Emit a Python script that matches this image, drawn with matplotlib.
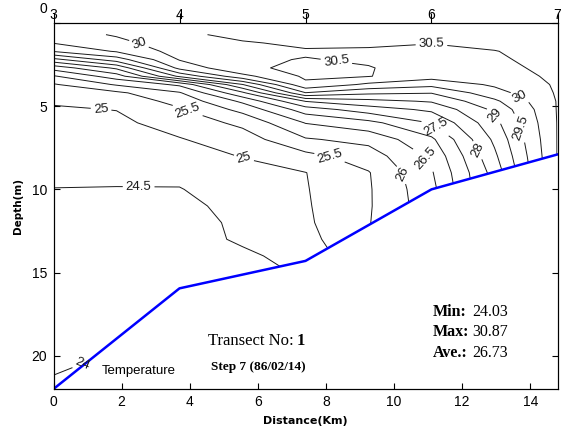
import numpy as np
import matplotlib
matplotlib.use('Agg')
import matplotlib.pyplot as plt
import matplotlib.transforms as mtransforms
from matplotlib.patches import Polygon

plt.rcParams['font.family'] = 'Liberation Sans'

# grid: distance along the transect (km) and depth (m)
dist = [0, 1.85, 3.7, 5.55, 7.4, 9.25, 11.1, 12.95, 14.8]
depth = [0.7, 1.2, 1.7, 2.2, 2.7, 3.2, 3.7, 4.2, 4.7, 5.2, 6, 7, 8, 9, 10,
         11, 12, 13, 14, 15, 16, 18, 20, 22]

# temperature (deg C), one row per depth
temp = [
    [29.75, 30.05, 30.38, 30.65, 30.75, 30.80, 30.70, 30.80, 30.87],
    [29.52, 29.85, 30.30, 30.45, 30.60, 30.60, 30.51, 30.65, 30.80],
    [29.03, 29.55, 30.20, 30.40, 30.45, 30.42, 30.42, 30.48, 30.75],
    [27.85, 28.75, 30.03, 30.43, 30.52, 30.45, 30.38, 30.42, 30.70],
    [26.70, 27.60, 29.65, 30.42, 30.60, 30.52, 30.33, 30.35, 30.65],
    [25.95, 26.75, 28.60, 29.85, 30.58, 30.52, 30.20, 30.25, 30.60],
    [25.45, 26.05, 26.60, 28.48, 30.40, 29.90, 29.65, 30.08, 30.56],
    [25.25, 25.40, 25.95, 27.40, 29.48, 29.10, 29.02, 29.80, 30.55],
    [25.05, 25.20, 25.65, 26.60, 28.02, 28.35, 28.55, 29.40, 30.53],
    [24.95, 25.01, 25.45, 26.15, 27.25, 27.75, 28.10, 29.10, 30.53],
    [24.88, 24.90, 25.20, 25.62, 26.52, 26.85, 27.52, 28.85, 30.52],
    [24.80, 24.80, 24.97, 25.25, 25.95, 26.15, 26.90, 28.60, 30.52],
    [24.70, 24.70, 24.80, 25.02, 25.35, 25.75, 26.60, 28.40, 30.52],
    [24.60, 24.60, 24.62, 24.85, 24.99, 25.47, 26.45, 28.20, 30.52],
    [24.49, 24.48, 24.48, 24.75, 24.97, 25.45, 26.35, 28.15, 30.52],
    [24.45, 24.40, 24.42, 24.60, 24.95, 25.45, 26.30, 28.15, 30.52],
    [24.40, 24.33, 24.40, 24.55, 24.92, 25.47, 26.30, 28.15, 30.52],
    [24.35, 24.27, 24.38, 24.54, 24.82, 25.52, 26.30, 28.15, 30.52],
    [24.30, 24.20, 24.30, 24.45, 24.60, 25.52, 26.30, 28.15, 30.52],
    [24.26, 24.15, 24.25, 24.35, 24.55, 25.52, 26.30, 28.15, 30.52],
    [24.22, 24.10, 24.20, 24.30, 24.55, 25.52, 26.30, 28.15, 30.52],
    [24.15, 24.02, 24.15, 24.30, 24.55, 25.52, 26.30, 28.15, 30.52],
    [24.07, 23.98, 24.12, 24.30, 24.55, 25.52, 26.30, 28.15, 30.52],
    [23.95, 23.95, 24.10, 24.30, 24.55, 25.52, 26.30, 28.15, 30.52],
]

# stations and sea bottom under each of them
stations = ['3', '4', '5', '6', '7']
station_dist = [0, 3.7, 7.4, 11.1, 14.8]
bottom_depth = [22, 15.95, 14.3, 10.0, 7.9]

t_min, t_max, t_ave = 24.03, 30.87, 26.73

levels = np.arange(24, 30.75, 0.5)

fig = plt.figure(figsize=(5.63, 4.32), dpi=100)
ax = fig.add_axes([53.5 / 563, 43 / 432, 504 / 563, 366 / 432])

X, Y = np.meshgrid(dist, depth)
cs = ax.contour(X, Y, np.array(temp), levels=levels, colors='#1a1a1a',
                linewidths=0.7)

# where the isotherm labels sit (km, m)
label_pos = [(0.8, 20.3), (2.5, 9.85), (1.4, 5.1), (5.6, 8.05),
             (3.95, 5.2), (8.1, 8.1), (10.45, 9.0), (10.95, 8.1),
             (11.3, 6.05), (12.5, 7.6), (13.0, 5.5), (13.7, 6.3),
             (2.5, 1.3), (13.7, 4.45), (11.1, 1.25), (8.3, 2.4)]
ax.clabel(cs, manual=label_pos, inline=True, fontsize=9.5, fmt='%g',
          inline_spacing=3)

# hide isotherms below the sea bottom
wx = [station_dist[0], station_dist[-1]] + station_dist[::-1]
wy = [0, 0] + bottom_depth[::-1]
water = Polygon(np.column_stack([wx, wy]), closed=True,
                transform=ax.transData, facecolor='none', edgecolor='none')
cs.set_clip_path(water)

ax.plot(station_dist, bottom_depth, color='#0000ff', lw=1.8)

ax.set_xlim(0, 14.8)
ax.set_ylim(22, 0)
ax.set_xticks(range(0, 15, 2))
ax.set_yticks([0, 5, 10, 15, 20])
ax.tick_params(direction='in', length=4, labelsize=10, top=True, right=True,
               pad=4.5)
for s in ax.spines.values():
    s.set_linewidth(0.8)

lbl0 = ax.get_yticklabels()[0]
lbl0.set_transform(lbl0.get_transform() +
                   mtransforms.ScaledTranslation(0, 11 / 72, fig.dpi_scale_trans))

ax.set_xlabel('Distance(Km)', family='DejaVu Sans', fontweight='bold',
              fontsize=8, labelpad=5)
ax.set_ylabel('Depth(m)', family='DejaVu Sans', fontweight='bold',
              fontsize=7.5, labelpad=6)

top = ax.twiny()
top.set_xlim(ax.get_xlim())
top.set_xticks(station_dist)
top.set_xticklabels(stations)
top.tick_params(axis='x', direction='out', length=7, pad=-6, labelsize=10)

serif = 'Liberation Serif'
ax.text(4.54, 19.1, 'Transect No: ', family=serif, fontsize=12, va='center')
ax.text(7.15, 19.1, '1', family=serif, fontsize=12, fontweight='bold',
        va='center')
ax.text(4.62, 20.67, 'Step 7 (86/02/14)', family=serif, fontsize=9.5,
        fontweight='bold', va='center')
ax.text(1.42, 20.9, 'Temperature', fontsize=9.5, va='center')

for i, (name, val) in enumerate([('Min:', t_min), ('Max:', t_max),
                                 ('Ave.:', t_ave)]):
    y = 17.37 + 1.23 * i
    ax.text(11.15, y, name, family=serif, fontsize=11.5, fontweight='bold',
            va='center')
    ax.text(12.3, y, f'{val:.2f}', family=serif, fontsize=11.5, va='center')

fig.savefig('out.png', dpi=100)
